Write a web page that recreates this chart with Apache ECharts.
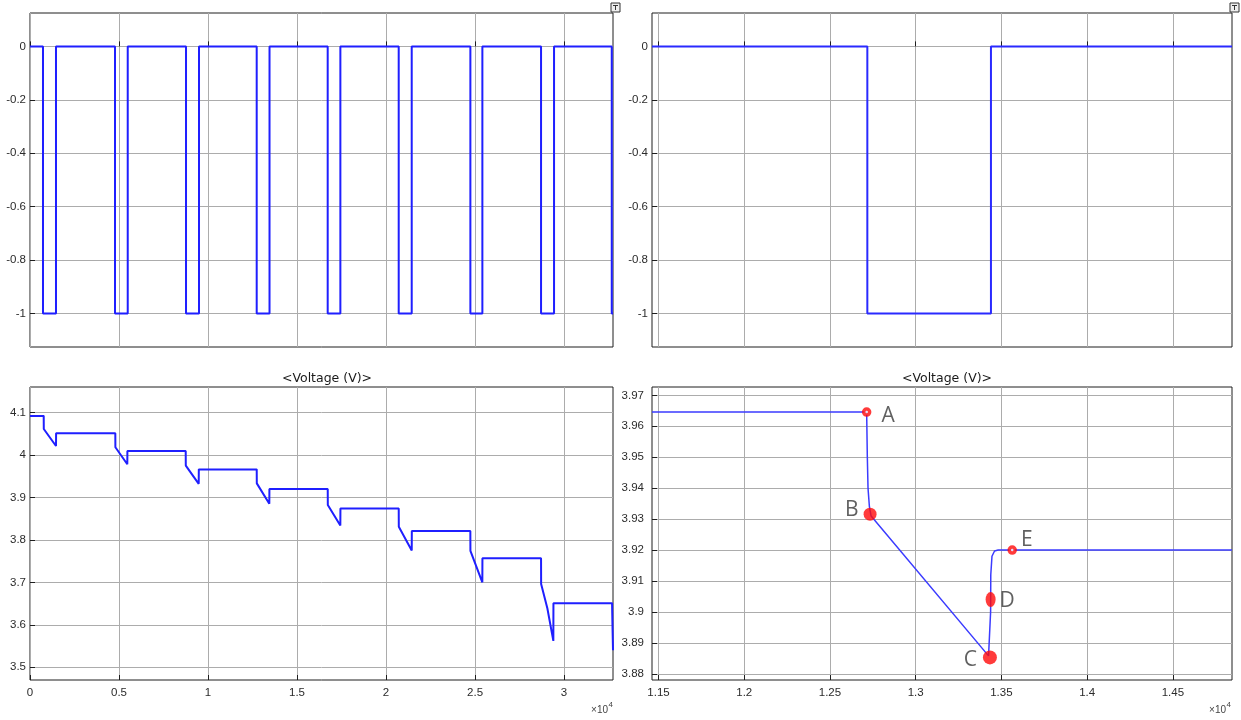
<!DOCTYPE html>
<html>
<head>
<meta charset="utf-8">
<title>Voltage</title>
<script src="https://cdn.jsdelivr.net/npm/echarts@6/dist/echarts.min.js"></script>
<style>
html, body { margin: 0; padding: 0; background: #fff; }
#main { width: 1241px; height: 720px; }
</style>
</head>
<body>
<div id="main"></div>
<script>
// 脉冲电流 (全程), 值保持到下一个时刻
var pulseT = [0, 730, 1460, 4775, 5490, 8764, 9494, 12735, 13455, 16723, 17435, 20712, 21443, 24738, 25412, 28708, 29438, 32680, 32750];
var pulseV = [0, -1, 0, -1, 0, -1, 0, -1, 0, -1, 0, -1, 0, -1, 0, -1, 0, -1, -1];
// 脉冲电流 (局部放大)
var zoomPulseT = [11462, 12718, 13439, 14845];
var zoomPulseV = [0, -1, 0, 0];
// 端电压 (全程)
var voltT = [0, 770, 775, 1461, 1466, 4792, 4797, 5466, 5471, 8747, 8752, 9478, 9483, 12736, 12741, 13444, 13449, 16725, 16730, 17433, 17438,
    20713, 20718, 21444, 21449, 24736, 24741, 25410, 25415, 28708, 28713, 29062, 29399, 29404, 32697, 32720, 32750];
var voltV = [4.092, 4.092, 4.061, 4.021, 4.051, 4.051, 4.018, 3.978, 4.009, 4.009, 3.975, 3.932, 3.966, 3.966, 3.933, 3.885, 3.920, 3.920, 3.882, 3.834, 3.874,
    3.874, 3.831, 3.775, 3.821, 3.821, 3.774, 3.700, 3.757, 3.757, 3.696, 3.639, 3.562, 3.651, 3.651, 3.600, 3.540];
// 端电压 (局部放大)
var zoomVoltT = [11462, 12714, 12718, 12722, 12730, 12740, 13425, 13435, 13437, 13438, 13445, 13460, 13481, 14845];
var zoomVoltV = [3.9646, 3.9646, 3.950, 3.940, 3.934, 3.931, 3.8858, 3.8853, 3.900, 3.912, 3.918, 3.9197, 3.920, 3.920];
// 标记点 A-E
var ptName = ['A', 'B', 'C', 'D', 'E'];
var ptT = [12714, 12734, 13433, 13437, 13563];
var ptV = [3.9646, 3.9316, 3.8853, 3.904, 3.920];
// 刻度
var fullTicksX = [0, 5000, 10000, 15000, 20000, 25000, 30000];
var zoomTicksX = [11500, 12000, 12500, 13000, 13500, 14000, 14500];
var pulseTicksY = [-1, -0.8, -0.6, -0.4, -0.2, 0];
var voltTicksY = [3.5, 3.6, 3.7, 3.8, 3.9, 4, 4.1];
var zoomVoltTicksY = [3.88, 3.89, 3.9, 3.91, 3.92, 3.93, 3.94, 3.95, 3.96, 3.97];

function pairs(xs, ys) {
    return xs.map(function (x, i) { return [x, ys[i]]; });
}

var gridColor = '#acacac';
var boxColor = '#1e1e1e';
var labelFont = { color: '#2b2b2b', fontSize: 11.5, fontFamily: 'Liberation Sans, Arial, sans-serif' };
var titleFont = { fontSize: 12.5, fontWeight: 'normal', color: '#1a1a1a', fontFamily: 'DejaVu Sans, sans-serif' };

function fmt(v) { return String(+(+v).toFixed(4)); }

function makeX(idx, min, max, ticks, showLabel) {
    return {
        type: 'value', gridIndex: idx, min: min, max: max,
        axisLine: { show: false },
        axisTick: { show: true, inside: true, length: 5, customValues: ticks, lineStyle: { color: boxColor } },
        axisLabel: Object.assign({ show: showLabel, margin: 7, customValues: ticks,
            formatter: function (v) { return fmt(v / 1e4); } }, labelFont),
        splitLine: { show: true, lineStyle: { color: gridColor, width: 1 } }
    };
}

function makeY(idx, min, max, ticks, margin) {
    return {
        type: 'value', gridIndex: idx, min: min, max: max,
        axisLine: { show: false },
        axisTick: { show: true, inside: true, length: 5, customValues: ticks, lineStyle: { color: boxColor } },
        axisLabel: Object.assign({ margin: margin, customValues: ticks, formatter: fmt }, labelFont),
        splitLine: { show: true, lineStyle: { color: gridColor, width: 1 } }
    };
}

function makeGrid(left, top, width, height) {
    return {
        left: left, top: top, width: width, height: height,
        show: true, borderColor: boxColor, borderWidth: 1, backgroundColor: '#fff',
        outerBoundsMode: 'none', containLabel: false
    };
}

// 标记点样式 (A、E 为空心圈)
var ringStyle = { color: '#fff', borderColor: '#ff0a0a', borderWidth: 3.5 };
var markStyle = {
    A: { size: 6, ring: true, pos: 'right', dist: 10, off: [0, 4] },
    B: { size: 13, ring: false, pos: 'left', dist: 5, off: [0, -4] },
    C: { size: 14, ring: false, pos: 'left', dist: 6, off: [0, 3] },
    D: { size: [10, 15], ring: false, pos: 'right', dist: 4, off: [0, 1] },
    E: { size: 6, ring: true, pos: 'right', dist: 4, off: [0, -10] }
};

var markData = ptName.map(function (n, i) {
    var s = markStyle[n];
    var item = {
        name: n, value: [ptT[i], ptV[i]],
        symbol: 'circle', symbolSize: s.size,
        label: { show: true, position: s.pos, distance: s.dist, offset: s.off, formatter: '{b}' }
    };
    if (s.ring) item.itemStyle = ringStyle;
    return item;
});

var chart = echarts.init(document.getElementById('main'));

var option = {
    animation: false,
    backgroundColor: '#fff',
    title: [
        { text: '<Voltage (V)>', left: 322, top: 367, textAlign: 'center', textStyle: titleFont },
        { text: '<Voltage (V)>', left: 942, top: 367, textAlign: 'center', textStyle: titleFont }
    ],
    grid: [
        makeGrid(30, 13, 583, 334),
        makeGrid(652, 13, 580, 334),
        makeGrid(30, 387, 583, 293),
        makeGrid(652, 387, 580, 293)
    ],
    xAxis: [
        makeX(0, 0, 32750, fullTicksX, false),
        makeX(1, 11462, 14845, zoomTicksX, false),
        makeX(2, 0, 32750, fullTicksX, true),
        makeX(3, 11462, 14845, zoomTicksX, true)
    ],
    yAxis: [
        makeY(0, -1.125, 0.125, pulseTicksY, 4),
        makeY(1, -1.125, 0.125, pulseTicksY, 4),
        makeY(2, 3.47, 4.16, voltTicksY, 4),
        makeY(3, 3.878, 3.9727, zoomVoltTicksY, 8)
    ],
    series: [
        { type: 'line', xAxisIndex: 0, yAxisIndex: 0, step: 'end', showSymbol: false,
          lineStyle: { color: '#1f1fff', width: 2 }, data: pairs(pulseT, pulseV) },
        { type: 'line', xAxisIndex: 1, yAxisIndex: 1, step: 'end', showSymbol: false,
          lineStyle: { color: '#2a2aff', width: 2 }, data: pairs(zoomPulseT, zoomPulseV) },
        { type: 'line', xAxisIndex: 2, yAxisIndex: 2, showSymbol: false,
          lineStyle: { color: '#1f1fff', width: 2 }, data: pairs(voltT, voltV) },
        { type: 'line', xAxisIndex: 3, yAxisIndex: 3, showSymbol: false,
          lineStyle: { color: '#3b3bff', width: 1.5 }, data: pairs(zoomVoltT, zoomVoltV) },
        { type: 'scatter', xAxisIndex: 3, yAxisIndex: 3, z: 5,
          itemStyle: { color: '#ff0a0a', borderWidth: 0 },
          label: { color: '#383838', fontSize: 21, fontFamily: 'Open Sans, Noto Sans, sans-serif' },
          data: markData }
    ],
    graphic: [
        // ×10^4
        { type: 'text', x: 608, y: 710, style: { text: '×10', align: 'right', verticalAlign: 'middle', fontSize: 10, fill: '#444', fontFamily: 'Liberation Sans, Arial, sans-serif' } },
        { type: 'text', x: 608.5, y: 705, style: { text: '4', align: 'left', verticalAlign: 'middle', fontSize: 8, fill: '#444', fontFamily: 'Liberation Sans, Arial, sans-serif' } },
        { type: 'text', x: 1226, y: 710, style: { text: '×10', align: 'right', verticalAlign: 'middle', fontSize: 10, fill: '#444', fontFamily: 'Liberation Sans, Arial, sans-serif' } },
        { type: 'text', x: 1226.5, y: 705, style: { text: '4', align: 'left', verticalAlign: 'middle', fontSize: 8, fill: '#444', fontFamily: 'Liberation Sans, Arial, sans-serif' } },
        // 右上角小图标
        { type: 'rect', x: 611, y: 3, shape: { width: 9, height: 9 }, style: { fill: '#eee', stroke: '#333', lineWidth: 1 } },
        { type: 'line', shape: { x1: 613, y1: 5.5, x2: 618, y2: 5.5 }, style: { stroke: '#333', lineWidth: 1 } },
        { type: 'line', shape: { x1: 615.5, y1: 6, x2: 615.5, y2: 10 }, style: { stroke: '#333', lineWidth: 1 } },
        { type: 'rect', x: 1230, y: 3, shape: { width: 9, height: 9 }, style: { fill: '#eee', stroke: '#333', lineWidth: 1 } },
        { type: 'line', shape: { x1: 1232, y1: 5.5, x2: 1237, y2: 5.5 }, style: { stroke: '#333', lineWidth: 1 } },
        { type: 'line', shape: { x1: 1234.5, y1: 6, x2: 1234.5, y2: 10 }, style: { stroke: '#333', lineWidth: 1 } }
    ]
};

chart.setOption(option);
</script>
</body>
</html>
